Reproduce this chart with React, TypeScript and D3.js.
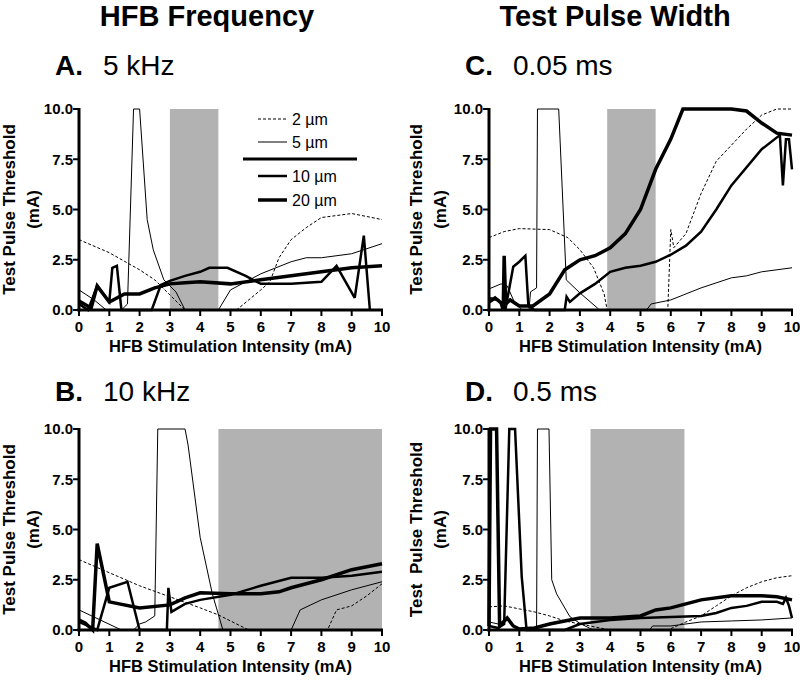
import React from 'react';
import * as d3 from 'd3';

// ---------- data ----------
const xTicks = [0, 1, 2, 3, 4, 5, 6, 7, 8, 9, 10];
const yTicks = [0, 2.5, 5, 7.5, 10];
const yTickLabels = ['0.0', '2.5', '5.0', '7.5', '10.0'];
const seriesNames = ['2 \u00b5m', '5 \u00b5m', '10 \u00b5m', '20 \u00b5m'];
const columnTitles = ['HFB Frequency', 'Test Pulse Width'];
const panelLetters = ['A.', 'B.', 'C.', 'D.'];
const panelSubtitles = ['5 kHz', '10 kHz', '0.05 ms', '0.5 ms'];
const xTitle = 'HFB Stimulation Intensity (mA)';
const yTitles = ['Test Pulse Threshold', 'Test Pulse Threshold', 'Test Pulse Threshold', 'Test  Pulse Threshold'];
const yUnit = '(mA)';

// shaded block ranges (x start, x end)
const shadeA = [3.0, 4.6];
const shadeB = [4.6, 10];
const shadeC = [3.9, 5.5];
const shadeD = [3.35, 6.45];

type P = [number, number];

// Panel A: 5 kHz
const a2: P[] = [[0,3.5],[1,2.85],[2,2.0],[2.5,1.5],[3,0.75],[3.5,0],[5.2,0],[5.6,0.5],[6,1.0],[6.3,1.4],[6.6,2.6],[7,3.5],[7.5,4.1],[8,4.6],[8.5,4.7],[9,4.8],[9.5,4.65],[10,4.5]];
const a5: P[] = [[0,1.0],[0.5,0.5],[0.9,0],[1.4,0],[1.6,0.3],[1.8,10],[2.0,10],[2.25,4.5],[2.45,3.0],[2.8,1.5],[3.2,0.9],[3.5,0],[4.6,0],[5.0,1.0],[6,1.8],[7,2.4],[7.5,2.6],[8,2.6],[9,2.8],[10,3.3]];
const a10: P[] = [[0,0.3],[0.3,0],[0.6,1.2],[1.0,0.4],[1.1,2.1],[1.25,2.2],[1.4,0],[2.4,0],[2.7,1.25],[3,1.45],[3.5,1.7],[4,1.9],[4.3,2.1],[4.9,2.1],[5.5,1.7],[6,1.3],[7,1.3],[8,1.4],[8.5,2.2],[9.1,0.6],[9.4,3.7],[9.6,0]];
const a20: P[] = [[0,0.45],[0.4,0.1],[0.6,1.2],[1.0,0.4],[1.5,0.8],[2,0.8],[2.5,1.1],[3,1.3],[3.5,1.35],[4,1.4],[5,1.3],[6,1.5],[7,1.7],[8,1.9],[9,2.1],[10,2.2]];

// Panel B: 10 kHz
const b2: P[] = [[0,3.5],[1,2.85],[2,2.2],[3,1.65],[4,1.1],[4.6,0.75],[5.6,0],[8.2,0],[8.5,1.0],[9,1.2],[9.5,1.7],[10,2.3]];
const b5: P[] = [[0,1.0],[0.7,0.5],[1.4,0],[1.8,0],[2.0,0.3],[2.2,0.4],[2.5,0.7],[2.6,10],[3.5,10],[3.6,9.2],[4.0,4.6],[4.4,1.8],[4.75,0],[7.0,0],[7.3,1.0],[8,1.5],[9,2.0],[10,2.4]];
const b10: P[] = [[0,0.4],[0.3,0.2],[0.6,0],[1.0,2.1],[1.6,2.4],[2.0,0],[2.9,0],[2.95,2.1],[3.05,0.9],[3.5,1.3],[4,1.5],[5,1.75],[6,2.2],[7,2.6],[8,2.6],[9,2.7],[10,2.9]];
const b20: P[] = [[0,0.5],[0.2,0.35],[0.45,0],[0.6,4.3],[1.0,1.4],[2.0,1.1],[3.0,1.25],[3.5,1.6],[4.0,1.85],[5,1.8],[6,1.8],[6.6,1.9],[7,2.1],[8,2.5],[9,3.0],[10,3.3]];

// Panel C: 0.05 ms
const c2: P[] = [[0,3.6],[0.5,3.9],[1,4.05],[2,4.0],[2.6,3.6],[3,3.0],[3.45,2.1],[3.8,0.8],[3.9,0],[5.9,0],[6.0,4.0],[6.1,3.1],[6.5,3.8],[7,5.8],[7.5,7.4],[8,8.2],[8.5,9.0],[9,9.7],[9.5,10],[10,10]];
const c5: P[] = [[0,1.05],[0.4,1.3],[0.6,1.2],[0.85,0.35],[1.1,0],[1.32,0],[1.37,0.9],[1.57,1.1],[1.6,10],[2.3,10],[2.55,1.5],[3,0.85],[3.5,0.2],[3.65,0],[5.2,0],[5.35,0.3],[6,0.5],[7,1.1],[8,1.6],[8.5,1.7],[9,1.9],[10,2.1]];
const c10: P[] = [[0,0.6],[0.3,0.5],[0.55,0.1],[0.8,2.15],[1.0,2.4],[1.2,2.7],[1.3,0.2],[1.5,0],[2.5,0],[2.56,0.66],[2.67,0.4],[3,0.83],[3.5,1.3],[4,1.9],[4.5,2.1],[5,2.2],[5.5,2.4],[6,2.75],[6.5,3.2],[7,3.9],[7.5,5.0],[8,6.2],[9,8.0],[9.6,8.7],[9.7,6.2],[9.8,8.5],[9.9,8.5],[10,7.0]];
const c20: P[] = [[0,0.4],[0.2,0.6],[0.4,0.35],[0.47,0],[0.5,2.7],[0.55,0.3],[0.7,0.5],[1.0,0.2],[1.45,0.2],[2,0.8],[2.5,2.0],[3,2.5],[3.5,2.7],[4,3.1],[4.5,3.8],[5,5.0],[5.5,7.0],[6,8.5],[6.4,10],[8,10],[8.5,9.9],[9,9.3],[9.5,8.8],[10,8.7]];

// Panel D: 0.5 ms
const d2: P[] = [[0,1.15],[0.5,1.2],[1,1.05],[1.5,0.9],[2,0.7],[2.5,0.45],[3,0.3],[3.5,0.15],[4,0],[5.9,0],[6.5,0.4],[7,0.7],[7.5,1.2],[8,1.7],[8.5,2.1],[9,2.4],[9.5,2.6],[10,2.7]];
const d5: P[] = [[0,0.4],[0.3,0.3],[0.6,0.5],[0.9,0.1],[1.5,0],[1.57,0],[1.6,10],[1.98,10],[2.07,2.5],[2.23,1.8],[2.67,0.66],[3,0.33],[3.44,0],[5.3,0],[5.4,0.2],[6,0.2],[7,0.4],[8,0.45],[9,0.5],[10,0.6]];
const d10: P[] = [[0,0.2],[0.3,0.1],[0.5,0.3],[0.67,10],[0.86,10],[1.08,2.65],[1.24,0],[2.5,0],[3,0.3],[4,0.5],[5,0.6],[6,0.65],[7,0.7],[7.5,0.85],[8,1.1],[8.5,1.2],[9,1.4],[9.5,1.4],[9.7,1.3],[9.8,1.6],[9.9,1.2],[10,0.6]];
const d20: P[] = [[0,0.2],[0.05,10],[0.25,10],[0.35,0.2],[0.6,0.6],[0.8,0.2],[1.0,0.05],[1.5,0.1],[2,0.3],[2.5,0.45],[3,0.6],[4,0.6],[5,0.7],[5.5,1.0],[6,1.1],[6.5,1.3],[7,1.5],[8,1.7],[9,1.7],[9.5,1.65],[10,1.5]];

// ---------- styles ----------
const FONT = 'Arial, "Liberation Sans", Helvetica, sans-serif';
const SHADE = '#b2b2b2';
const seriesStyle = [
  { w: 1, dash: '3,2' },
  { w: 1, dash: undefined as string | undefined },
  { w: 2.5, dash: undefined as string | undefined },
  { w: 3.5, dash: undefined as string | undefined },
];

const PW = 303;
const PH = 201;

type PanelProps = {
  left: number; top: number; series: P[][]; shade: number[];
  letter: string; subtitle: string; labelBaseline: number;
  yTitle: string; yTitleX: number; yUnitX: number;
};

function Panel(p: PanelProps) {
  const x = d3.scaleLinear().domain([0, 10]).range([p.left, p.left + PW]);
  const y = d3.scaleLinear().domain([0, 10]).range([p.top + PH, p.top]);
  const line = d3.line<P>().x((d) => x(d[0])).y((d) => y(Math.min(10, d[1])));
  const cy = p.top + PH / 2;
  const bottom = p.top + PH;
  return (
    <g>
      <text x={p.left - 24} y={p.labelBaseline} fontFamily={FONT} fontWeight="bold" fontSize={28}>{p.letter}</text>
      <text x={p.left + 24} y={p.labelBaseline} fontFamily={FONT} fontSize={28}>{p.subtitle}</text>
      <rect x={x(p.shade[0])} y={y(10)} width={x(p.shade[1]) - x(p.shade[0])} height={y(0) - y(10)} fill={SHADE} />
      {p.series.map((s, i) => (
        <path key={i} d={line(s) || ''} fill="none" stroke="#000" strokeWidth={seriesStyle[i].w}
          strokeDasharray={seriesStyle[i].dash} strokeLinejoin="miter" strokeMiterlimit={3} />
      ))}
      <line x1={p.left} x2={p.left} y1={y(10) - 1} y2={bottom + 1.5} stroke="#000" strokeWidth={3} />
      <line x1={p.left - 1.5} x2={p.left + PW + 1} y1={bottom} y2={bottom} stroke="#000" strokeWidth={3} />
      {yTicks.map((t, i) => (
        <g key={'y' + t}>
          <line x1={p.left - 6} x2={p.left} y1={y(t)} y2={y(t)} stroke="#000" strokeWidth={2} />
          <text x={p.left - 6} y={y(t)} dy="0.36em" textAnchor="end" fontFamily={FONT} fontWeight="bold" fontSize={15}>{yTickLabels[i]}</text>
        </g>
      ))}
      {xTicks.map((t) => (
        <g key={'x' + t}>
          <line x1={x(t)} x2={x(t)} y1={bottom} y2={bottom + 6} stroke="#000" strokeWidth={2} />
          <text x={x(t)} y={bottom + 22} textAnchor="middle" fontFamily={FONT} fontWeight="bold" fontSize={15}>{t}</text>
        </g>
      ))}
      <text x={p.left + PW / 2} y={bottom + 42} textAnchor="middle" fontFamily={FONT} fontWeight="bold" fontSize={16.5}>{xTitle}</text>
      <text transform={`translate(${p.yTitleX},${cy}) rotate(-90)`} textAnchor="middle" fontFamily={FONT} fontWeight="bold" fontSize={17} style={{ whiteSpace: 'pre' }}>{p.yTitle}</text>
      <text transform={`translate(${p.yUnitX},${cy}) rotate(-90)`} textAnchor="middle" fontFamily={FONT} fontWeight="bold" fontSize={17}>{yUnit}</text>
    </g>
  );
}

function Legend() {
  const items = [
    { y: 119, tb: 124.5 },
    { y: 142, tb: 147.5 },
    { y: 176, tb: 182 },
    { y: 200, tb: 205.5 },
  ];
  const idx = [0, 1, 2, 3];
  return (
    <g>
      {idx.map((i) => (
        <g key={i}>
          <line x1={258} x2={287} y1={items[i].y} y2={items[i].y} stroke="#000" strokeWidth={seriesStyle[i].w} strokeDasharray={seriesStyle[i].dash} />
          <text x={292} y={items[i].tb} fontFamily={FONT} fontSize={16}>{seriesNames[i]}</text>
        </g>
      ))}
      <line x1={243} x2={357} y1={159} y2={159} stroke="#000" strokeWidth={3} />
    </g>
  );
}

export default function App() {
  return (
    <svg width={800} height={681} style={{ position: 'absolute', left: 0, top: 0, background: '#fff' }}>
      <rect x={0} y={0} width={800} height={681} fill="#fff" />
      <text x={207} y={26} textAnchor="middle" fontFamily={FONT} fontWeight="bold" fontSize={29}>{columnTitles[0]}</text>
      <text x={615} y={26} textAnchor="middle" fontFamily={FONT} fontWeight="bold" fontSize={29}>{columnTitles[1]}</text>
      <Panel left={79} top={109} series={[a2, a5, a10, a20]} shade={shadeA} letter={panelLetters[0]} subtitle={panelSubtitles[0]} labelBaseline={75} yTitle={yTitles[0]} yTitleX={15} yUnitX={39} />
      <Panel left={79} top={429} series={[b2, b5, b10, b20]} shade={shadeB} letter={panelLetters[1]} subtitle={panelSubtitles[1]} labelBaseline={401} yTitle={yTitles[1]} yTitleX={15} yUnitX={39} />
      <Panel left={489} top={109} series={[c2, c5, c10, c20]} shade={shadeC} letter={panelLetters[2]} subtitle={panelSubtitles[2]} labelBaseline={75} yTitle={yTitles[2]} yTitleX={422} yUnitX={446} />
      <Panel left={489} top={429} series={[d2, d5, d10, d20]} shade={shadeD} letter={panelLetters[3]} subtitle={panelSubtitles[3]} labelBaseline={401} yTitle={yTitles[3]} yTitleX={422} yUnitX={446} />
      <Legend />
    </svg>
  );
}
